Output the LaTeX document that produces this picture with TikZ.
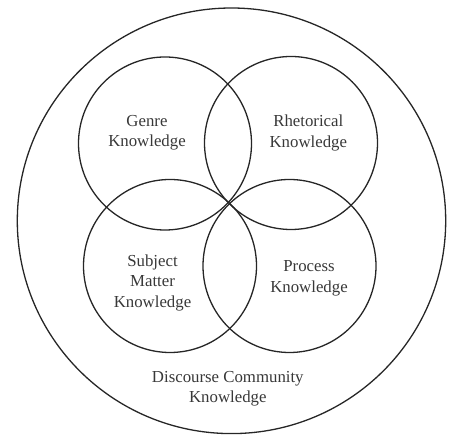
\documentclass[tikz,border=0pt]{standalone}
\usepackage{fontspec}
\setmainfont{Liberation Serif}
\begin{document}
\begin{tikzpicture}[x=1pt,y=-1pt,
  ring/.style={draw=black!85,line width=1.3pt},
  label/.style={align=center,text=black!78,font=\fontsize{16.8}{20.5}\selectfont,inner sep=0pt}]
\useasboundingbox (0,0) rectangle (453,435);
% outer community circle
\draw[ring] (231.5,220.8) ellipse [x radius=214.2, y radius=212.8];
% four overlapping knowledge circles
\draw[ring] (165,143.5) circle [radius=86.5];
\draw[ring] (291,143) circle [radius=86.5];
\draw[ring] (170,266) circle [radius=86.5];
\draw[ring] (289.5,266) circle [radius=86.5];
% labels
\node[label] (genre) at (147,133) {Genre\\Knowledge};
\node[label] (rhet) at (308.3,133) {Rhetorical\\Knowledge};
\node[label] (subj) at (152.5,282.5) {Subject\\Matter\\Knowledge};
\node[label] (proc) at (309,278.5) {Process\\Knowledge};
\node[label] (disc) at (227.8,389) {Discourse Community\\Knowledge};
\end{tikzpicture}
\end{document}
